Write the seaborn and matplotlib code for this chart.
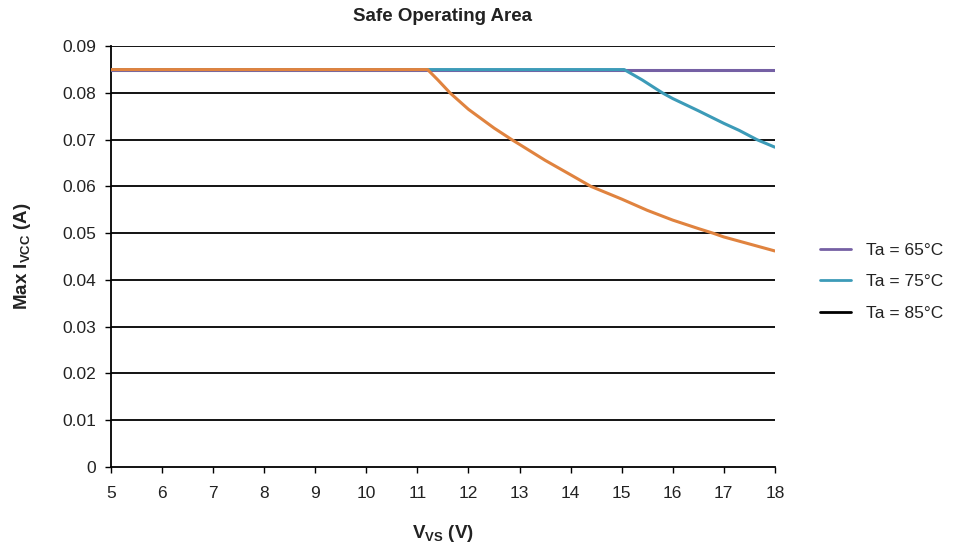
import matplotlib
matplotlib.use("Agg")
import matplotlib.pyplot as plt
import seaborn as sns
from matplotlib.lines import Line2D

# Ta = 65C stays at the limit over the whole range
v_65 = [5, 18]
i_65 = [0.085, 0.085]

v_75 = [5, 15.05, 15.4, 15.8, 16, 16.5, 17, 17.3, 17.65, 18]
i_75 = [0.085, 0.085, 0.0828, 0.080, 0.0788, 0.0762, 0.0735, 0.0720, 0.070, 0.0684]

v_85 = [5, 11.2, 11.4, 11.64, 12, 12.5, 12.85, 13, 13.5, 14, 14.4, 15, 15.5, 16, 16.5, 16.79, 17, 17.5, 18]
i_85 = [0.085, 0.085, 0.0828, 0.080, 0.0765, 0.0725, 0.070, 0.069, 0.0656, 0.0625, 0.060, 0.0573, 0.0549, 0.0528, 0.0510, 0.050, 0.0492, 0.0477, 0.0462]

x_ticks = list(range(5, 19))
y_ticks = [0, 0.01, 0.02, 0.03, 0.04, 0.05, 0.06, 0.07, 0.08, 0.09]
y_tick_labels = ["0", "0.01", "0.02", "0.03", "0.04", "0.05", "0.06", "0.07", "0.08", "0.09"]

sns.set_style("white")
plt.rcParams["font.family"] = ["Liberation Sans", "DejaVu Sans"]
plt.rcParams["mathtext.fontset"] = "custom"
plt.rcParams["mathtext.rm"] = "Liberation Sans:bold"
plt.rcParams["mathtext.it"] = "Liberation Sans:bold"
plt.rcParams["mathtext.bf"] = "Liberation Sans:bold"

fig = plt.figure(figsize=(9.59, 5.5), dpi=100)
ax = fig.add_axes([0.1157, 0.151, 0.6923, 0.765])

for yv in y_ticks[1:]:
    ax.axhline(yv, color="black", lw=1.3, zorder=1)

sns.lineplot(x=v_65, y=i_65, ax=ax, color="#7560a4", lw=2.2, zorder=3)
sns.lineplot(x=v_75, y=i_75, ax=ax, color="#3c9bb8", lw=2.2, zorder=4)
sns.lineplot(x=v_85, y=i_85, ax=ax, color="#e0833f", lw=2.2, zorder=5)

ax.set_xlim(5, 18)
ax.set_ylim(0, 0.09)
ax.set_xticks(x_ticks)
ax.set_yticks(y_ticks)
ax.set_yticklabels(y_tick_labels)
ax.tick_params(axis="both", direction="out", length=4.5, width=1, color="black",
               labelsize=12.5, labelcolor="#222222", left=True, bottom=True)
ax.tick_params(axis="y", pad=6)
ax.tick_params(axis="x", pad=9)

for side in ["top", "right"]:
    ax.spines[side].set_visible(False)
for side in ["left", "bottom"]:
    ax.spines[side].set_color("black")
    ax.spines[side].set_linewidth(1.3)

ax.set_title("Safe Operating Area", fontsize=13.5, fontweight="bold", pad=18, color="#222222")
ax.set_xlabel("V$_{VS}$ (V)", fontsize=13.5, fontweight="bold", labelpad=16, color="#222222")
ax.set_ylabel("Max I$_{VCC}$ (A)", fontsize=13.5, fontweight="bold", labelpad=21, color="#222222")

handles = [
    Line2D([], [], color="#7560a4", lw=2),
    Line2D([], [], color="#3c9bb8", lw=2),
    Line2D([], [], color="black", lw=2),
]
labels = ["Ta = 65°C", "Ta = 75°C", "Ta = 85°C"]
leg = ax.legend(handles, labels, loc="center left", bbox_to_anchor=(1.045, 0.44),
                frameon=False, fontsize=12.5, handlelength=1.75, handletextpad=0.9,
                labelspacing=0.95)
for t in leg.get_texts():
    t.set_color("#222222")

fig.savefig("out.png", dpi=100)
